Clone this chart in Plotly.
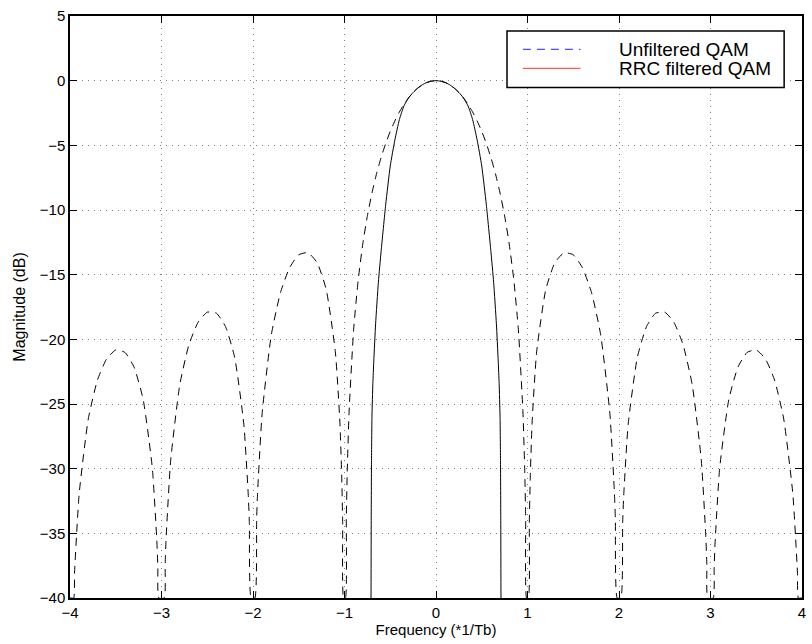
import plotly.graph_objects as go

# Spectrum of unfiltered QAM (dashed) sampled in frequency (*1/Tb) and dB
unfiltered_freq = [
    -4.0, -3.96, -3.95, -3.9, -3.8, -3.7, -3.6, -3.5, -3.4, -3.3, -3.2, -3.1, -3.05, -3.04, -3.03,
    -2.97, -2.96, -2.95, -2.9, -2.8, -2.7, -2.6, -2.5, -2.4, -2.3, -2.2, -2.1, -2.05, -2.04, -2.02,
    -1.98, -1.96, -1.95, -1.9, -1.8, -1.7, -1.6, -1.5, -1.4, -1.3, -1.2, -1.1, -1.05, -1.03, -1.02, -1.01,
    -0.99, -0.98, -0.97, -0.95, -0.9, -0.85, -0.8, -0.75, -0.7, -0.65, -0.6, -0.55, -0.5, -0.45,
    -0.4, -0.35, -0.3, -0.25, -0.2, -0.15, -0.1, -0.05, 0.0,
    0.05, 0.1, 0.15, 0.2, 0.25, 0.3, 0.35, 0.4, 0.45, 0.5, 0.55, 0.6, 0.65, 0.7, 0.75, 0.8,
    0.85, 0.9, 0.95, 0.97, 0.98, 0.99,
    1.01, 1.02, 1.03, 1.05, 1.1, 1.2, 1.3, 1.4, 1.5, 1.6, 1.7, 1.8, 1.9, 1.95, 1.96, 1.98,
    2.02, 2.04, 2.05, 2.1, 2.2, 2.3, 2.4, 2.5, 2.6, 2.7, 2.8, 2.9, 2.95, 2.96, 2.97,
    3.03, 3.04, 3.05, 3.1, 3.2, 3.3, 3.4, 3.5, 3.6, 3.7, 3.8, 3.9, 3.95, 3.96, 4.0,
]
unfiltered_db = [
    -40.0, -40.0, -37.99, -31.96, -26.15, -23.15, -21.51, -20.82, -21.01, -22.15, -24.66, -29.97, -35.74, -37.64, -40.0,
    -40.0, -37.41, -35.45, -29.39, -23.50, -20.41, -18.68, -17.90, -17.98, -19.02, -21.41, -26.59, -32.29, -34.17, -40.0,
    -40.0, -33.83, -31.86, -25.72, -19.66, -16.39, -14.46, -13.46, -13.30, -14.06, -16.14, -20.97, -26.48, -30.73, -34.16, -40.0,
    -40.0, -33.81, -30.21, -25.61, -19.23, -15.39, -12.62, -10.45, -8.69, -7.20, -5.94, -4.86, -3.92, -3.12,
    -2.42, -1.83, -1.33, -0.91, -0.58, -0.32, -0.14, -0.04, 0.0,
    -0.04, -0.14, -0.32, -0.58, -0.91, -1.33, -1.83, -2.42, -3.12, -3.92, -4.86, -5.94, -7.20, -8.69, -10.45, -12.62,
    -15.39, -19.23, -25.61, -30.21, -33.81, -40.0,
    -40.0, -34.16, -30.73, -26.48, -20.97, -16.14, -14.06, -13.30, -13.46, -14.46, -16.39, -19.66, -25.72, -31.86, -33.83, -40.0,
    -40.0, -34.17, -32.29, -26.59, -21.41, -19.02, -17.98, -17.90, -18.68, -20.41, -23.50, -29.39, -35.45, -37.41, -40.0,
    -40.0, -37.64, -35.74, -29.97, -24.66, -22.15, -21.01, -20.82, -21.51, -23.15, -26.15, -31.96, -37.99, -40.0, -40.0,
]

# Spectrum after root-raised-cosine filtering (solid)
rrc_freq = [
    -0.71, -0.708, -0.705, -0.70, -0.69, -0.68, -0.66, -0.63, -0.6, -0.55, -0.5, -0.45, -0.4, -0.35,
    -0.3, -0.25, -0.2, -0.15, -0.1, -0.05, 0.0, 0.05, 0.1, 0.15, 0.2, 0.25, 0.3,
    0.35, 0.4, 0.45, 0.5, 0.55, 0.6, 0.63, 0.66, 0.68, 0.69, 0.70, 0.705, 0.708, 0.71,
]
rrc_db = [
    -40.0, -34.0, -29.5, -26.0, -23.4, -21.7, -18.8, -15.6, -13.2, -9.6, -6.6, -4.6, -3.0, -1.95,
    -1.33, -0.91, -0.58, -0.32, -0.14, -0.04, 0.0, -0.04, -0.14, -0.32, -0.58, -0.91, -1.33,
    -1.95, -3.0, -4.6, -6.6, -9.6, -13.2, -15.6, -18.8, -21.7, -23.4, -26.0, -29.5, -34.0, -40.0,
]

x_ticks = [-4, -3, -2, -1, 0, 1, 2, 3, 4]
y_ticks = [5, 0, -5, -10, -15, -20, -25, -30, -35, -40]
legend_labels = ["Unfiltered QAM", "RRC filtered QAM"]
legend_colors = ["#2020ff", "#ff3030"]

FONT = "Liberation Sans, Arial, Helvetica, sans-serif"

fig = go.Figure()
fig.add_trace(go.Scatter(
    x=unfiltered_freq, y=unfiltered_db, mode="lines",
    line=dict(color="black", width=1, dash="8px,6px", shape="spline", smoothing=0.5),
    showlegend=False, hoverinfo="skip",
))
fig.add_trace(go.Scatter(
    x=rrc_freq, y=rrc_db, mode="lines",
    line=dict(color="black", width=1, shape="spline", smoothing=0.5),
    showlegend=False, hoverinfo="skip",
))

axis_common = dict(
    showline=True, linecolor="black", linewidth=1.5, mirror="ticks",
    ticks="inside", ticklen=7, tickwidth=1, tickcolor="black",
    showgrid=True, gridcolor="#808080", gridwidth=1, griddash="1px,5px",
    zeroline=False, tickfont=dict(family=FONT, size=15, color="black"),
)

fig.update_xaxes(
    range=[-4, 4], tickvals=x_ticks,
    title=dict(text="Frequency (*1/Tb)", font=dict(family=FONT, size=15, color="black"), standoff=4),
    **axis_common,
)
fig.update_yaxes(
    range=[-40, 5], tickvals=y_ticks,
    title=dict(text="Magnitude (dB)", font=dict(family=FONT, size=16, color="black"), standoff=10),
    **axis_common,
)

# Legend box drawn in plot-area (paper) coordinates
box_x0, box_x1, box_y0, box_y1 = 0.597, 0.9756, 0.8771, 0.9742
sample_x0, sample_x1 = 0.6187, 0.6974
row_y = [0.9428, 0.9101]
text_x = 0.747

shapes = [dict(type="rect", xref="paper", yref="paper", x0=box_x0, x1=box_x1, y0=box_y0, y1=box_y1,
               line=dict(color="black", width=1.5), fillcolor="white", layer="above")]
for i, col in enumerate(legend_colors):
    shapes.append(dict(type="line", xref="paper", yref="paper", x0=sample_x0, x1=sample_x1,
                       y0=row_y[i], y1=row_y[i], layer="above",
                       line=dict(color=col, width=1, dash="8px,6px" if i == 0 else "solid")))

annotations = []
for i, lab in enumerate(legend_labels):
    annotations.append(dict(xref="paper", yref="paper", x=text_x, y=row_y[i], text=lab,
                            showarrow=False, xanchor="left", yanchor="middle",
                            font=dict(family=FONT, size=19, color="black")))

fig.update_layout(
    width=812, height=644,
    margin=dict(l=70, r=6, t=16, b=46),
    paper_bgcolor="white", plot_bgcolor="white",
    font=dict(family=FONT, color="black"),
    shapes=shapes, annotations=annotations,
    showlegend=False,
)

fig.write_html("out.html")
